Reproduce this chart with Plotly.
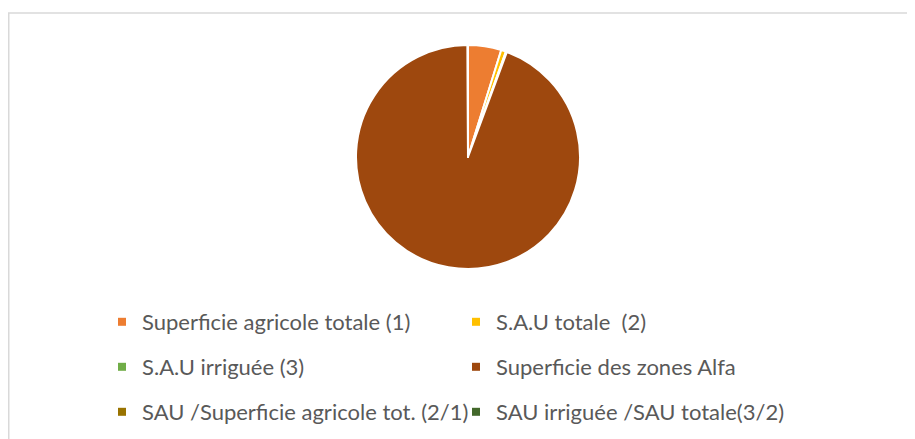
import plotly.graph_objects as go

labels = [
    "Superficie agricole totale (1)",
    "S.A.U totale  (2)",
    "S.A.U irriguée (3)",
    "Superficie des zones Alfa",
    "SAU /Superficie agricole tot. (2/1)",
    "SAU irriguée /SAU totale(3/2)",
]
values = [4.8, 0.7, 0.15, 94.3, 0.03, 0.02]
colors = ["#ED7D31", "#FFC000", "#70AD47", "#9E480E", "#997300", "#43682B"]

# page has an 8px body margin: figure coordinates = page coordinates - 8
OFF = 8
W, H = 915 - OFF, 439 - OFF
FONT = "Lato"
TXT = "#595959"


def px(xp):
    return (xp - OFF) / W


def py(yp):
    return (H - (yp - OFF)) / H


fig = go.Figure()
fig.add_trace(go.Pie(
    labels=labels, values=values,
    marker=dict(colors=colors, line=dict(color="white", width=2)),
    sort=False, direction="clockwise", rotation=0,
    textinfo="none", hoverinfo="label+value",
    showlegend=False,
    domain=dict(x=[px(356), px(580)], y=[py(269), py(45)]),
))

legend_names = ["legend", "legend", "legend2", "legend2", "legend3", "legend3"]
for lab, col, lg in zip(labels, colors, legend_names):
    fig.add_trace(go.Scatter(
        x=[None], y=[None], mode="markers", name=lab,
        marker=dict(symbol="square", size=8, color=col),
        legend=lg, showlegend=True, hoverinfo="skip",
    ))

row_y = [322, 367, 412]
leg_common = dict(
    orientation="h", xanchor="left", yanchor="middle",
    x=px(102), entrywidth=309, entrywidthmode="pixels",
    font=dict(family=FONT, size=22, color=TXT),
    bgcolor="rgba(0,0,0,0)", itemclick=False, itemdoubleclick=False,
)

fig.update_layout(
    width=W, height=H,
    margin=dict(l=0, r=0, t=0, b=0),
    paper_bgcolor="white", plot_bgcolor="white",
    xaxis=dict(visible=False), yaxis=dict(visible=False),
    legend=dict(leg_common, y=py(row_y[0])),
    legend2=dict(leg_common, y=py(row_y[1])),
    legend3=dict(leg_common, y=py(row_y[2])),
    shapes=[dict(
        type="rect", xref="paper", yref="paper",
        x0=px(8.75), x1=px(940), y0=-0.2, y1=py(13),
        line=dict(color="#D9D9D9", width=1.5), fillcolor="rgba(0,0,0,0)",
        layer="below",
    )],
)

fig.write_html("out.html")
